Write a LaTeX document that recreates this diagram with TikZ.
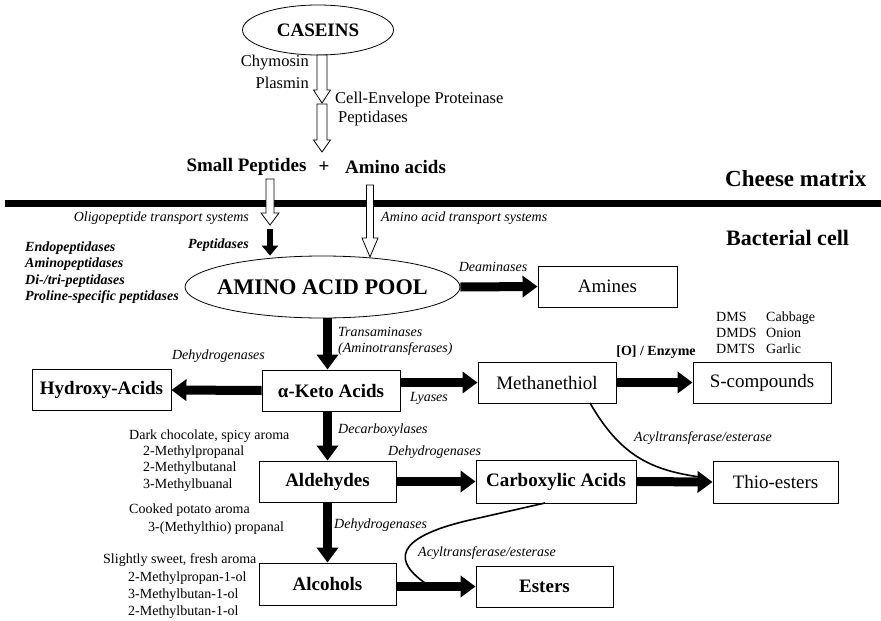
\documentclass[tikz,border=0pt]{standalone}
\usepackage{fontspec}
\setmainfont{Liberation Serif}
\usetikzlibrary{arrows.meta,shapes.geometric,calc}
\tikzset{
  box/.style={draw, line width=0.9pt, minimum height=41pt, inner sep=0pt, font=\fontsize{19}{22}\selectfont},
  bbox/.style={box, font=\fontsize{19}{22}\selectfont\bfseries},
  lab/.style={inner sep=0pt, font=\fontsize{14}{16}\selectfont},
  ilab/.style={inner sep=0pt, font=\fontsize{14}{16}\selectfont\itshape},
  mlab/.style={inner sep=0pt, font=\fontsize{16.5}{20}\selectfont},
  big/.style={inner sep=0pt, font=\fontsize{19}{22}\selectfont\bfseries},
  flow/.style={line width=9pt, -{Triangle[length=15pt,width=21pt]}},
  curve/.style={line width=1.6pt},
  hollow/.style={line width=0.8pt, fill=white}
}
\begin{document}
\begin{tikzpicture}[x=1pt,y=-1pt]
\useasboundingbox (0,0) rectangle (881,621);

% ---- top part
\node[draw, ellipse, line width=0.8pt, minimum width=151pt, minimum height=50pt, inner xsep=-5pt, inner ysep=0pt, font=\fontsize{19}{22}\selectfont\bfseries] (casein) at (318,30) {CASEINS};
\node[big] (sp) at (246.5,167) {Small Peptides};
\node[big] (plus) at (324,167) {+};
\node[big] (aa) at (395.5,167) {Amino acids};
\node[mlab, anchor=east] (chy) at (309,63) {Chymosin};
\node[mlab, anchor=east] (pla) at (309,83) {Plasmin};
\node[mlab, anchor=west] (cep) at (335,100) {Cell-Envelope Proteinase};
\node[mlab, anchor=west] (pep1) at (338,119) {Peptidases};

% hollow arrows
\coordinate (h1) at (322,55);
\coordinate (h2) at (322,104);
\draw[hollow] ($(h1)+(-5,0)$) -- ++(0,35) -- ++(-3.5,0) -- ($(h1)+(0,48)$) -- ($(h1)+(8.5,35)$) -- ++(-3.5,0) -- ($(h1)+(5,0)$) -- cycle;
\draw[hollow] ($(h2)+(-5,0)$) -- ++(0,36) -- ++(-3.5,0) -- ($(h2)+(0,48)$) -- ($(h2)+(8.5,36)$) -- ++(-3.5,0) -- ($(h2)+(5,0)$) -- cycle;

% membrane
\coordinate (m0) at (5,203.5);
\coordinate (m1) at (881,203.5);
\draw[line width=7pt] (m0) -- (m1);
\node[inner sep=0pt, font=\fontsize{23}{26}\selectfont\bfseries, anchor=west] (cheese) at (725,179) {Cheese matrix};
\node[inner sep=0pt, font=\fontsize{22}{26}\selectfont\bfseries, anchor=west] (bact) at (726,238) {Bacterial cell};

\coordinate (h3) at (270,179);
\coordinate (h4) at (370,185);
\draw[hollow] ($(h3)+(-4,0)$) -- ++(0,34) -- ++(-5,0) -- ($(h3)+(0,46)$) -- ($(h3)+(9,34)$) -- ++(-5,0) -- ($(h3)+(4,0)$) -- cycle;
\draw[hollow] ($(h4)+(-3.5,0)$) -- ++(0,53) -- ++(-4.5,0) -- ($(h4)+(0,72)$) -- ($(h4)+(8,53)$) -- ++(-4.5,0) -- ($(h4)+(3.5,0)$) -- cycle;

\node[ilab, anchor=east] (olig) at (249,218) {Oligopeptide transport systems};
\node[ilab, anchor=west] (aats) at (381,218) {Amino acid transport systems};
\node[ilab, font=\fontsize{14}{16}\selectfont\bfseries\itshape, anchor=east] (pep2) at (249,245) {Peptidases};
\node[inner sep=0pt, align=left, anchor=west, font=\fontsize{14}{16.4}\selectfont\bfseries\itshape] (endo) at (25,272.5) {Endopeptidases\\Aminopeptidases\\Di-/tri-peptidases\\Proline-specific peptidases};

% pool
\node[draw, ellipse, line width=0.8pt, minimum width=275pt, minimum height=62pt, inner xsep=-12pt, inner ysep=0pt, font=\fontsize{22.3}{26}\selectfont\bfseries] (pool) at (322.5,287) {AMINO ACID POOL};
\coordinate (pk) at (270,229);
\draw[line width=6pt, -{Triangle[length=10pt,width=16pt]}] (pk) -- (pk |- pool.north);

% boxes
\node[box, minimum width=139pt] (amines) at (607.5,286.5) {Amines};
\node[bbox, minimum width=139pt] (hydroxy) at (101.5,390) {Hydroxy-Acids};
\node[bbox, minimum width=138pt] (keto) at (331,390.5) {α-Keto Acids};
\node[box, minimum width=138pt] (meth) at (547,382.5) {Methanethiol};
\node[box, minimum width=138pt] (scomp) at (762,382.5) {S-compounds};
\node[bbox, minimum width=137pt] (ald) at (327.5,481.5) {Aldehydes};
\node[bbox, minimum width=160pt, minimum height=43pt] (carb) at (556,481.5) {Carboxylic Acids};
\node[box, minimum width=125pt, minimum height=42pt] (thio) at (775.5,482) {Thio-esters};
\node[bbox, minimum width=137pt, minimum height=42pt] (alc) at (327.5,584) {Alcohols};
\node[bbox, minimum width=137pt] (est) at (544.5,586.5) {Esters};

% flow arrows
\draw[flow] (pool.east) -- (amines.west);
\draw[flow] (ald.north |- pool.south) -- (ald.north |- keto.north);
\draw[flow] (keto.west) -- (hydroxy.east);
\draw[flow] (keto.east |- meth) -- (meth.west);
\draw[flow] (ald.north |- keto.south) -- (ald.north);
\draw[flow] (meth.east) -- (scomp.west);
\draw[flow] (ald.east) -- (carb.west);
\draw[flow] (carb.east) -- (thio.west);
\draw[flow] (ald.south) -- (alc.north);
\draw[flow] (alc.east |- est) -- (est.west);

% curves
\coordinate (c1) at (590,403);
\coordinate (c2) at (700,477);
\draw[curve] (c1) .. controls (620,455) and (650,470) .. (c2);
\coordinate (c3) at (545,503);
\coordinate (c4) at (470,520);
\coordinate (c5) at (428,585);
\draw[curve] (c3) -- (c4) .. controls (392,538) and (393,562) .. (c5);

% labels
\node[ilab] (deam) at (493,267) {Deaminases};
\node[ilab, align=left, anchor=west, font=\fontsize{14}{16}\selectfont\itshape] (trans) at (338,341) {Transaminases\\(Aminotransferases)};
\node[ilab] (dh1) at (218.5,356) {Dehydrogenases};
\node[ilab, anchor=west] (lya) at (410,398) {Lyases};
\node[lab, font=\fontsize{14}{16}\selectfont\bfseries] (oenz) at (656,352) {[O] / Enzyme};
\node[lab, align=left, anchor=west] (dms) at (716,333) {DMS\\DMDS\\DMTS};
\node[lab, align=left, anchor=west] (veg) at (766,333) {Cabbage\\Onion\\Garlic};
\node[ilab, anchor=west] (decarb) at (338,430) {Decarboxylases};
\node[lab, anchor=west] (dark) at (129,436) {Dark chocolate, spicy aroma};
\node[lab, anchor=west] (mp1) at (143,452) {2-Methylpropanal};
\node[lab, anchor=west] (mb1) at (143,468) {2-Methylbutanal};
\node[lab, anchor=west] (mb2) at (143,485) {3-Methylbuanal};
\node[ilab, anchor=west] (dh2) at (388,452) {Dehydrogenases};
\node[lab, anchor=west] (cook) at (129,510) {Cooked potato aroma};
\node[lab, anchor=west] (mtp) at (148,528) {3-(Methylthio) propanal};
\node[ilab, anchor=west] (dh3) at (334,525) {Dehydrogenases};
\node[lab, anchor=west] (sweet) at (103,560) {Slightly sweet, fresh aroma};
\node[lab, anchor=west] (ol1) at (128,578) {2-Methylpropan-1-ol};
\node[lab, anchor=west] (ol2) at (128,595) {3-Methylbutan-1-ol};
\node[lab, anchor=west] (ol3) at (128,612) {2-Methylbutan-1-ol};
\node[ilab, anchor=west] (acyl1) at (634,438) {Acyltransferase/esterase};
\node[ilab, anchor=west] (acyl2) at (418,553) {Acyltransferase/esterase};
\end{tikzpicture}
\end{document}
